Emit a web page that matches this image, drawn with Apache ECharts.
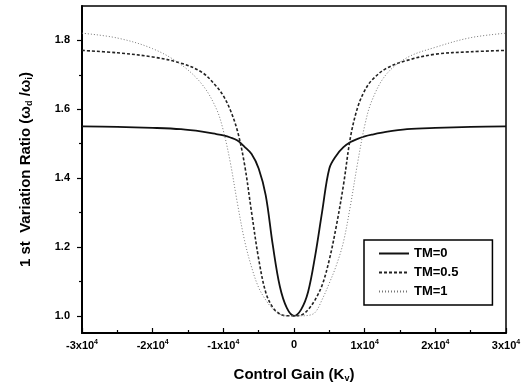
<!DOCTYPE html>
<html>
<head>
<meta charset="utf-8">
<script src="https://cdn.jsdelivr.net/npm/echarts@6/dist/echarts.min.js"></script>
<style>
  html, body { margin: 0; padding: 0; background: #fff; }
  #chart { width: 531px; height: 383px; }
</style>
</head>
<body>
<div id="chart"></div>
<script>
// control gain K_v, shared by all three curves
const GAIN = [
  -30000, -25000, -20000, -16000, -13000, -11000, -10000, -9000, -8000, -7000,
  -6000, -5000, -4000, -3000, -2000, -1000, 0, 1000, 2000, 3000, 4000, 5000,
  6000, 7000, 8000, 9000, 10000, 11000, 13000, 16000, 20000, 25000, 30000
];

const TM_0 = [
  1.550, 1.549, 1.546, 1.542, 1.535, 1.528, 1.524, 1.518, 1.509, 1.491,
  1.470, 1.428, 1.350, 1.205, 1.085, 1.022, 1.000, 1.018, 1.070, 1.175,
  1.305, 1.428, 1.466, 1.490, 1.505, 1.514, 1.521, 1.526, 1.534, 1.542,
  1.546, 1.549, 1.550
];

const TM_05 = [
  1.771, 1.764, 1.752, 1.734, 1.707, 1.667, 1.639, 1.597, 1.537, 1.440,
  1.300, 1.165, 1.068, 1.024, 1.005, 1.000, 1.000, 1.002, 1.018, 1.047,
  1.090, 1.163, 1.262, 1.380, 1.520, 1.605, 1.654, 1.684, 1.718, 1.742,
  1.760, 1.767, 1.771
];

const TM_1 = [
  1.821, 1.807, 1.776, 1.730, 1.672, 1.602, 1.538, 1.444, 1.326, 1.219,
  1.141, 1.082, 1.046, 1.020, 1.005, 1.000, 1.000, 1.000, 1.001, 1.010,
  1.048, 1.095, 1.147, 1.215, 1.322, 1.444, 1.552, 1.624, 1.700, 1.750,
  1.780, 1.808, 1.821
];

const SERIES_NAMES = ["TM=0", "TM=0.5", "TM=1"];
const Y_TICKS = [1.0, 1.2, 1.4, 1.6, 1.8];
const Y_MINOR_TICKS = [1.1, 1.3, 1.5, 1.7];
const X_EXPONENT = "4";

const FONT = "Liberation Sans";
const pairs = (ys) => GAIN.map((x, i) => [x, ys[i]]);

const chart = echarts.init(document.getElementById("chart"), null, { renderer: "canvas" });

const lineSeries = (name, ys, color, width, type) => ({
  name,
  type: "line",
  data: pairs(ys),
  symbol: "none",
  smooth: 0.35,
  lineStyle: { color, width, type },
  itemStyle: { color },
  z: 3,
});

chart.setOption({
  backgroundColor: "#fff",
  animation: false,
  grid: {
    left: 82,
    right: 25,
    top: 6,
    bottom: 50,
    containLabel: false,
    outerBoundsMode: "none",
    show: true,
    borderColor: "#000",
    borderWidth: 1.5,
    backgroundColor: "transparent",
  },
  legend: {
    orient: "vertical",
    left: 364,
    top: 240,
    padding: [7, 34, 7, 14],
    itemGap: 6,
    itemWidth: 30,
    itemHeight: 14,
    borderColor: "#000",
    borderWidth: 1.5,
    backgroundColor: "#fff",
    itemStyle: { opacity: 0 },
    textStyle: { fontFamily: FONT, fontSize: 13, fontWeight: "bold", color: "#000" },
    data: SERIES_NAMES,
  },
  xAxis: {
    type: "value",
    min: -30000,
    max: 30000,
    interval: 10000,
    name: "{n|Control Gain (K}{sub|v}{n|)}",
    nameLocation: "middle",
    nameGap: 33,
    nameTextStyle: {
      rich: {
        n: { fontFamily: FONT, fontSize: 15, fontWeight: "bold", color: "#000" },
        sub: { fontFamily: FONT, fontSize: 9, fontWeight: "bold", color: "#000", padding: [8, 0, 0, 0] },
      },
    },
    axisLine: { show: true, onZero: false, lineStyle: { color: "#000", width: 2 } },
    axisTick: { show: true, inside: true, length: 5, lineStyle: { color: "#000", width: 1.2 } },
    minorTick: { show: true, splitNumber: 2, length: 3, lineStyle: { color: "#000", width: 1.2 } },
    splitLine: { show: false },
    axisLabel: {
      margin: 6,
      formatter: (v) => (v === 0 ? "{b|0}" : `{b|${v / 10000}x10}{s|${X_EXPONENT}}`),
      rich: {
        b: { fontFamily: FONT, fontSize: 11, fontWeight: "bold", color: "#000" },
        s: { fontFamily: FONT, fontSize: 7, fontWeight: "bold", color: "#000", padding: [0, 0, 7, 0] },
      },
    },
  },
  yAxis: [
    {
      type: "value",
      min: 0.95,
      max: 1.9,
      name: "{n|1 st  Variation Ratio (ω}{sub|d}{n| /ω}{sub|i}{n|)}",
      nameLocation: "middle",
      nameGap: 48,
      nameTextStyle: {
        rich: {
          n: { fontFamily: FONT, fontSize: 15, fontWeight: "bold", color: "#000" },
          sub: { fontFamily: FONT, fontSize: 9, fontWeight: "bold", color: "#000", padding: [8, 0, 0, 0] },
        },
      },
      axisLine: { show: true, onZero: false, lineStyle: { color: "#000", width: 2 } },
      axisTick: { show: true, inside: false, length: 5, customValues: Y_TICKS, lineStyle: { color: "#000", width: 1.2 } },
      splitLine: { show: false },
      axisLabel: {
        margin: 12,
        customValues: Y_TICKS,
        formatter: (v) => v.toFixed(1),
        fontFamily: FONT,
        fontSize: 11,
        fontWeight: "bold",
        color: "#000",
      },
    },
    {
      type: "value",
      position: "left",
      offset: 0,
      min: 0.95,
      max: 1.9,
      axisLine: { show: false, onZero: false },
      axisLabel: { show: false },
      splitLine: { show: false },
      axisTick: { show: true, inside: false, length: 3, customValues: Y_MINOR_TICKS, lineStyle: { color: "#000", width: 1.2 } },
    },
  ],
  series: [
    lineSeries(SERIES_NAMES[0], TM_0, "#111", 1.8, "solid"),
    lineSeries(SERIES_NAMES[1], TM_05, "#222", 1.6, [3, 2]),
    lineSeries(SERIES_NAMES[2], TM_1, "#777", 1, [1, 2]),
  ],
});
</script>
</body>
</html>
